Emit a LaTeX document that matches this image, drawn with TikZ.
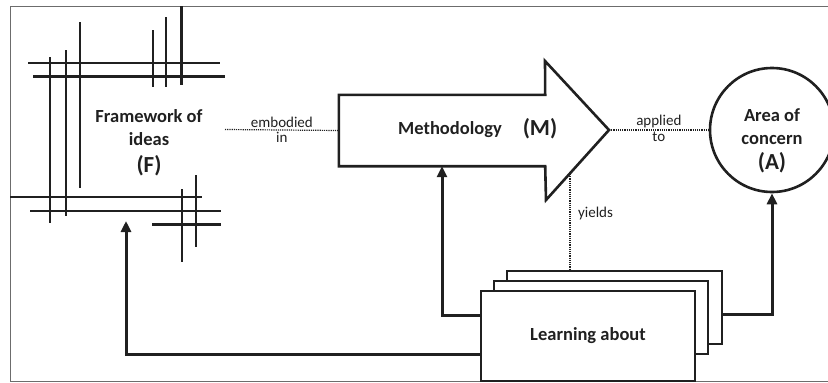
\documentclass[tikz,border=0pt]{standalone}
\usepackage{fontspec}
\setmainfont{Carlito}
\usetikzlibrary{arrows.meta,positioning,calc}
\definecolor{ink}{HTML}{202020}
\tikzset{
  frameline/.style={draw=gray!85!black, line width=1pt},
  grid/.style={draw=ink, line width=2.3pt},
  gridbold/.style={draw=ink, line width=3pt},
  flow/.style={draw=ink, line width=3pt, -{Triangle[length=11pt,width=10pt]}},
  link/.style={draw=ink, line width=1.2pt, densely dotted},
  card/.style={draw=ink, line width=2.6pt, fill=white, inner sep=0pt},
  lbl/.style={font=\fontsize{15}{16}\selectfont, text=ink, inner sep=1.5pt},
  bold/.style={font=\fontsize{18.5}{23}\selectfont\bfseries, text=ink, align=center},
  big/.style={font=\fontsize{23}{26}\selectfont\bfseries, text=ink},
}
\begin{document}
\begin{tikzpicture}[x=1pt,y=-1pt]
\useasboundingbox (0,0) rectangle (828,383);
% frame
\draw[frameline] (832,6) -- (10,6) -- (10,381) -- (832,381);

% framework of ideas
\draw[grid] (28,63) -- (220,63);
\draw[gridbold] (33,76) -- (225,76);
\draw[grid] (50,57) -- (50,223);
\draw[grid] (66,50) -- (66,216);
\draw[grid] (80,22) -- (80,188);
\draw[grid] (153,30) -- (153,87);
\draw[grid] (166,17) -- (166,87);
\draw[gridbold] (181,6) -- (181,85);
\draw[grid] (10,197) -- (202,197);
\draw[grid] (30,211) -- (221,211);
\draw[gridbold] (152,224) -- (221,224);
\draw[grid] (182,189) -- (182,262);
\draw[grid] (196,175) -- (196,247);
\node[bold] (F) at (149,143) {Framework of\\ideas\\[4pt]{\fontsize{23}{26}\selectfont (F)}};
\coordinate (Fout) at (225,129.5);
\coordinate (Fin) at (126,221);

% methodology
\node[minimum width=206pt, minimum height=71pt, inner sep=0pt] (M) at (442,130.5) {};
\coordinate (Mtop) at (545,61);
\coordinate (Mtip) at (609,130);
\coordinate (Mbot) at (546,200);
\draw[draw=ink, line width=2.6pt, line join=miter]
  (M.north west) -- (M.north east) -- (Mtop) -- (Mtip) -- (Mbot)
  -- (M.south east) -- (M.south west) -- cycle;
\node[bold] (Mtxt) at (450,130) {Methodology};
\node[big] (Mlet) at (540,129) {(M)};

% area of concern
\node[circle, draw=ink, line width=2.6pt, minimum size=124pt, inner sep=0pt] (A) at (772,130) {};
\node[bold] (Atxt) at (772,141) {Area of\\concern\\[2pt]{\fontsize{23}{26}\selectfont (A)}};

% learning about
\node[card, minimum width=215pt, minimum height=73pt] (L3) at (614.5,307.5) {};
\node[card, minimum width=214pt, minimum height=73pt] (L2) at (601,317.5) {};
\node[card, bold, minimum width=214pt, minimum height=90pt] (L1) at (588,336) {Learning about};

% dotted links
\draw[link] (Fout) -- node[lbl, above]{embodied} node[lbl, below]{in} (M.west);
\draw[link] (Mtip) -- node[lbl, above]{applied} node[lbl, below]{to} (A.west);
\coordinate (yld) at (570,174);
\draw[link] (yld) -- node[lbl, right=6pt, pos=0.41]{yields} (yld |- L3.north);

% learning feeds back
\draw[flow] ([yshift=-18pt]L1.west) -| (Fin);
\draw[flow] ([yshift=21pt]L1.west) -| (M.south);
\draw[flow] ([yshift=-6.5pt]L3.east) -| (A.south);
\end{tikzpicture}
\end{document}
